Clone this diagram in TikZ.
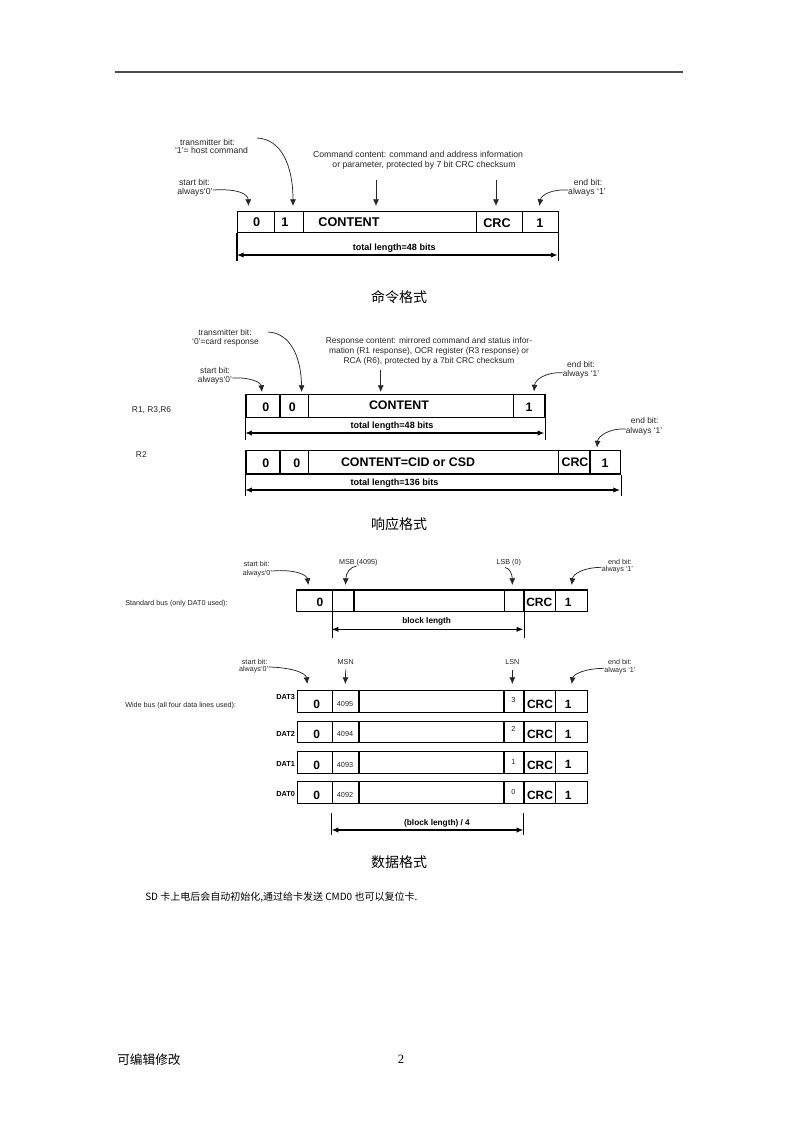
\documentclass[tikz,border=0pt]{standalone}
\usepackage{fontspec}
\setmainfont{Liberation Serif}
\newfontfamily\arial{Liberation Sans}
\newfontfamily\cjk{Noto Sans CJK SC}
\usetikzlibrary{arrows.meta,calc}
\newcommand\bitcell[5]{\node[cellbox, minimum width={(#3-#2)*0.75pt}, minimum height={(#5-#4)*0.75pt}] (#1) at (#2,#4) {};}
\tikzset{
  cellbox/.style={draw=black, line width=0.9pt, inner sep=0pt, anchor=north west},
  lblA/.style={font=\arial\fontsize{6.5}{7.5}\selectfont, inner sep=0pt, text height=0.7em, text depth=0.1em, text=black!85},
  lblB/.style={font=\arial\fontsize{6.3}{7.5}\selectfont, inner sep=0pt, text height=0.7em, text depth=0.1em, text=black!85},
  lblC/.style={font=\arial\fontsize{5.4}{6.3}\selectfont, inner sep=0pt, text height=0.7em, text depth=0.1em, text=black!85},
  bitA/.style={font=\arial\bfseries\fontsize{9.5}{11}\selectfont, inner sep=0pt, text height=0.72em, text depth=0em},
  bitB/.style={font=\arial\bfseries\fontsize{9.3}{11}\selectfont, inner sep=0pt, text height=0.72em, text depth=0em},
  bitC/.style={font=\arial\bfseries\fontsize{9}{11}\selectfont, inner sep=0pt, text height=0.72em, text depth=0em},
  lenA/.style={font=\arial\bfseries\fontsize{6.8}{8}\selectfont, inner sep=0pt, text height=0.7em, text depth=0.1em},
  lenC/.style={font=\arial\bfseries\fontsize{6.2}{7}\selectfont, inner sep=0pt, text height=0.7em, text depth=0.1em},
  datl/.style={font=\arial\bfseries\fontsize{5.5}{6.5}\selectfont, inner sep=0pt, text height=0.72em, text depth=0em, anchor=east},
  numl/.style={font=\arial\fontsize{5.5}{6.5}\selectfont, inner sep=0pt, text height=0.72em, text depth=0em, text=black!85},
  capt/.style={font=\cjk\fontsize{10.5}{12}\selectfont, inner sep=0pt, text height=0.8em, text depth=0.05em},
  bodyt/.style={font=\cjk\fontsize{7.5}{9}\selectfont, inner sep=0pt, text height=0.8em, text depth=0.05em, anchor=west},
  pointer/.style={-{Latex[length=5pt,width=4.5pt]}, line width=0.55pt, black!85},
  dimv/.style={line width=0.8pt},
  dimarrow/.style={{Latex[length=5pt,width=4pt]}-{Latex[length=5pt,width=4pt]}, line width=0.8pt},
  rule/.style={line width=1.1pt, gray!60!black}
}
\begin{document}
\begin{tikzpicture}[x=0.75pt,y=-0.75pt]
\useasboundingbox (0,0) rectangle (800,1132);
\fill[white] (0,0) rectangle (800,1132);

% header rule
\coordinate (hrL) at (115,72); \coordinate (hrR) at (683,72);
\draw[rule] (hrL) -- (hrR);
\node[font=\arial\fontsize{4}{5}\selectfont, inner sep=0pt, text=gray] (hdot) at (680,65) {.};

% ================= Diagram 1: command format =================
\bitcell{a0}{237}{274}{210.5}{232}
\bitcell{a1}{274}{302.5}{210.5}{232}
\bitcell{a2}{302.5}{476}{210.5}{232}
\bitcell{a3}{476}{522}{210.5}{232}
\bitcell{a4}{522}{557.5}{210.5}{232}
\node[bitA] (a0t) at (256.7,221.7) {0};
\node[bitA] (a1t) at (285,221.7) {1};
\node[bitA] (a2t) at (349,221.5) {CONTENT};
\node[bitA] (a3t) at (497,222.5) {CRC};
\node[bitA] (a4t) at (540,222.3) {1};
\draw[dimv] (a0.south west) -- ++(0,28);
\draw[dimv] (a4.south east) -- ++(0,28);
\coordinate (aL) at (237,255); \coordinate (aR) at (557.5,255);
\draw[dimarrow] (aL) -- (aR);
\node[lenA] (alen) at (394.2,246) {total length=48 bits};

\node[lblA] (atb1) at (207.5,141.7) {transmitter bit:};
\node[lblA] (atb2) at (211.5,149.3) {‘1’= host command};
\node[lblA] (asb1) at (194.5,181.7) {start bit:};
\node[lblA] (asb2) at (195,190) {always‘0’};
\node[lblA] (acc1) at (418,153.3) {Command content: command and address information};
\node[lblA] (acc2) at (424,163.3) {or parameter, protected by 7 bit CRC checksum};
\node[lblA] (aeb1) at (588,181.7) {end bit:};
\node[lblA] (aeb2) at (587,190) {always ‘1’};

\coordinate (ap1s) at (257,138); \coordinate (ap1e) at (293,206);
\draw[pointer] (ap1s) .. controls (281,139) and (293,165) .. (ap1e);
\coordinate (ap2e) at (248.5,206);
\draw[pointer] (asb2.east) .. controls (238,188.5) and (248,194) .. (ap2e);
\coordinate (ap3s) at (376,180); \coordinate (ap3e) at (376,206);
\draw[pointer] (ap3s) -- (ap3e);
\coordinate (ap4s) at (496,180); \coordinate (ap4e) at (496,206);
\draw[pointer] (ap4s) -- (ap4e);
\coordinate (ap5e) at (539.5,206);
\draw[pointer] (aeb2.west) .. controls (552,189) and (541,195) .. (ap5e);

\node[capt] (cap1) at (399,297) {命令格式};

% ================= Diagram 2: response format =================
\bitcell{b0}{245.3}{279.3}{394}{416.7}
\bitcell{b1}{279.3}{307.7}{394}{416.7}
\bitcell{b2}{307.7}{512.7}{394}{416.7}
\bitcell{b3}{512.7}{544.3}{394}{416.7}
\node[bitB] (b0t) at (265.7,406.2) {0};
\node[bitB] (b1t) at (292.3,406.2) {0};
\node[bitB] (b2t) at (399,404.3) {CONTENT};
\node[bitB] (b3t) at (529,406.2) {1};
\draw[dimv] (b0.south west) -- ++(0,22.3);
\draw[dimv] (b3.south east) -- ++(0,22.3);
\coordinate (bL) at (245.3,433); \coordinate (bR) at (544.3,433);
\draw[dimarrow] (bL) -- (bR);
\node[lenA] (blen) at (392,424.3) {total length=48 bits};

\bitcell{r0}{245.3}{279.3}{450}{473.3}
\bitcell{r1}{279.3}{307.7}{450}{473.3}
\bitcell{r2}{307.7}{557.7}{450}{473.3}
\bitcell{r3}{557.7}{589.3}{450}{473.3}
\bitcell{r4}{589.3}{620}{450}{473.3}
\node[bitB] (r0t) at (265.7,462.5) {0};
\node[bitB] (r1t) at (296.7,462.5) {0};
\node[bitB] (r2t) at (408,461.7) {CONTENT=CID or CSD};
\node[bitB] (r3t) at (575,461.7) {CRC};
\node[bitB] (r4t) at (605,462.3) {1};
\draw[dimv] (r0.south west) -- ++(0,21.7);
\draw[dimv] (r4.south east) -- ++(0,21.7);
\coordinate (rL) at (245.3,490); \coordinate (rR) at (620,490);
\draw[dimarrow] (rL) -- (rR);
\node[lenA] (rlen) at (394.5,481) {total length=136 bits};

\node[lblB, anchor=west] (bR1) at (131.7,408) {R1, R3,R6};
\node[lblB, anchor=west] (bR2) at (135.7,453) {R2};
\node[lblB] (btb1) at (225,331.7) {transmitter bit:};
\node[lblB] (btb2) at (225.5,340.7) {‘0’=card response};
\node[lblB] (bsb1) at (215,369) {start bit:};
\node[lblB] (bsb2) at (215,378) {always‘0’};
\node[lblB] (brc1) at (429,339.3) {Response content: mirrored command and status infor-};
\node[lblB] (brc2) at (429,349.3) {mation (R1 response), OCR register (R3 response) or};
\node[lblB] (brc3) at (429,359.3) {RCA (R6), protected by a 7bit CRC checksum};
\node[lblB] (beb1) at (581,363.3) {end bit:};
\node[lblB] (beb2) at (581,372.7) {always ‘1’};
\node[lblB] (reb1) at (644.7,419.3) {end bit:};
\node[lblB] (reb2) at (644,429) {always ‘1’};

\coordinate (bp1s) at (268,332); \coordinate (bp1e) at (301.7,392);
\draw[pointer] (bp1s) .. controls (290,333) and (301,356) .. (bp1e);
\coordinate (bp2e) at (262,392);
\draw[pointer] (bsb2.east) .. controls (252,377) and (261,383) .. (bp2e);
\coordinate (bp3s) at (380.7,370); \coordinate (bp3e) at (380.7,392);
\draw[pointer] (bp3s) -- (bp3e);
\coordinate (bp4e) at (534,391.5);
\draw[pointer] (beb2.west) .. controls (545,372) and (535,380) .. (bp4e);
\coordinate (bp5e) at (597,447.5);
\draw[pointer] (reb2.west) .. controls (610,428) and (598,436) .. (bp5e);

\node[capt] (cap2) at (399,524) {响应格式};

% ================= Diagram 3: data format =================
% standard bus
\bitcell{s0}{296}{331.7}{589.3}{610.7}
\bitcell{s1}{331.7}{353.3}{589.3}{610.7}
\bitcell{s2}{353.3}{504}{589.3}{610.7}
\bitcell{s3}{504}{523.3}{589.3}{610.7}
\bitcell{s4}{523.3}{555}{589.3}{610.7}
\bitcell{s5}{555}{586.7}{589.3}{610.7}
\node[bitC] (s0t) at (320,601.7) {0};
\node[bitC] (s4t) at (539.3,602) {CRC};
\node[bitC] (s5t) at (568.3,601.7) {1};
\draw[dimv] (s0.south east) -- ++(0,26);
\draw[dimv] (s3.south east) -- ++(0,26);
\coordinate (sL) at (331.7,629.3); \coordinate (sR) at (523.3,629.3);
\draw[dimarrow] (sL) -- (sR);
\node[lenC] (slen) at (426.7,619.3) {block length};

\node[lblC, anchor=west] (sbus) at (125,601) {Standard bus (only DAT0 used):};
\node[lblC] (ssb1) at (256.7,562.7) {start bit:};
\node[lblC] (ssb2) at (257.5,571) {always‘0’};
\node[lblC] (smsb) at (358.3,560) {MSB (4095)};
\node[lblC] (slsb) at (508.7,560) {LSB (0)};
\node[lblC] (seb1) at (620,560) {end bit:};
\node[lblC] (seb2) at (617.5,567.3) {always ‘1’};

\coordinate (sp1e) at (308.3,585);
\draw[pointer] (ssb2.east) .. controls (295,569) and (307,575) .. (sp1e);
\coordinate (sp2s) at (356.5,566); \coordinate (sp2e) at (345.5,585);
\draw[pointer] (sp2s) .. controls (350,567) and (346,573) .. (sp2e);
\coordinate (sp3s) at (505,567.5); \coordinate (sp3e) at (512.3,585);
\draw[pointer] (sp3s) .. controls (510,568) and (512.3,575) .. (sp3e);
\coordinate (sp4e) at (571.7,585);
\draw[pointer] (seb2.west) .. controls (583,567.5) and (573,574) .. (sp4e);

% wide bus
\foreach \nm/\yt/\dl/\dly/\num/\lsn/\lsny in {w3/690/DAT3/695/4095/3/697.3, w2/720.5/DAT2/731.7/4094/2/727, w1/750.9/DAT1/761.7/4093/1/759.5, w0/781.2/DAT0/792/4092/0/789.5}{
  \pgfmathsetmacro\yb{\yt+21.7}
  \bitcell{\nm c0}{296.7}{331.7}{\yt}{\yb}
  \bitcell{\nm c1}{331.7}{358.3}{\yt}{\yb}
  \bitcell{\nm c2}{358.3}{503.3}{\yt}{\yb}
  \bitcell{\nm c3}{503.3}{523.3}{\yt}{\yb}
  \bitcell{\nm c4}{523.3}{555}{\yt}{\yb}
  \bitcell{\nm c5}{555}{586.7}{\yt}{\yb}
  \node[datl] (\nm dl) at (295.3,\dly) {\dl};
  \node[bitC] (\nm z) at (316.7,\yt+13.3) {0};
  \node[numl] (\nm n) at (345,\yt+11.5) {\num};
  \node[numl] (\nm l) at (513.3,\lsny) {\lsn};
  \node[bitC] (\nm crc) at (540,\yt+13.5) {CRC};
  \node[bitC] (\nm one) at (568.3,\yt+13.2) {1};
}
\coordinate (wLt) at (331.7,813.3); \coordinate (wLb) at (331.7,835);
\coordinate (wRt) at (523.3,813.3); \coordinate (wRb) at (523.3,835);
\draw[dimv] (wLt) -- (wLb);
\draw[dimv] (wRt) -- (wRb);
\coordinate (wL) at (331.7,830); \coordinate (wR) at (523.3,830);
\draw[dimarrow] (wL) -- (wR);
\node[lenC] (wlen) at (437,821.7) {(block length) / 4};

\node[lblC, anchor=west] (wbus) at (125,703.3) {Wide bus (all four data lines used):};
\node[lblC] (wsb1) at (254.7,660) {start bit:};
\node[lblC] (wsb2) at (253.7,667) {always‘0’};
\node[lblC] (wmsn) at (345.7,660) {MSN};
\node[lblC] (wlsn) at (512.3,660) {LSN};
\node[lblC] (web1) at (620,660.7) {end bit:};
\node[lblC] (web2) at (620,668.3) {always ‘1’};

\coordinate (wp1e) at (307.3,684);
\draw[pointer] (wsb2.east) .. controls (292,667.5) and (306,673) .. (wp1e);
\coordinate (wp2e) at (345.3,684);
\draw[pointer] (wmsn.south) ++(0,4) -- (wp2e);
\coordinate (wp3e) at (512.3,684);
\draw[pointer] (wlsn.south) ++(0,4) -- (wp3e);
\coordinate (wp4e) at (571.7,684);
\draw[pointer] (web2.west) .. controls (583,668.5) and (573,675) .. (wp4e);

\node[capt] (cap3) at (399,862) {数据格式};

% body text and footer
\node[bodyt] (body) at (145,895.4) {SD 卡上电后会自动初始化,通过给卡发送 CMD0 也可以复位卡.};
\node[font=\cjk\fontsize{9.5}{11}\selectfont, inner sep=0pt, text height=0.8em, text depth=0.05em, anchor=west] (foot) at (117,1059) {可编辑修改};
\node[font=\fontsize{9.5}{11}\selectfont, inner sep=0pt] (pgno) at (401,1059) {2};
\end{tikzpicture}
\end{document}
